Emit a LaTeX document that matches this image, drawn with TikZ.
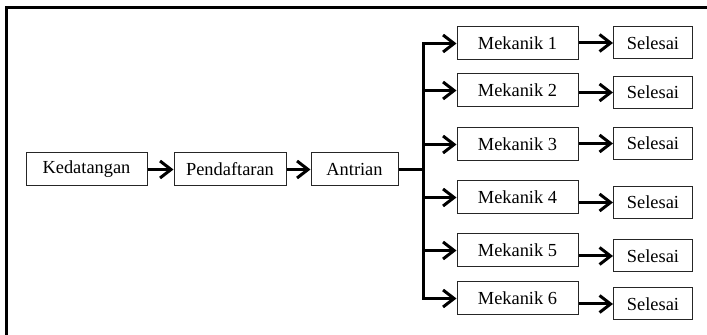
\documentclass[tikz,border=0pt]{standalone}
\usepackage{fontspec}
\setmainfont{Liberation Serif}
\usetikzlibrary{arrows.meta,positioning}

\begin{document}
\begin{tikzpicture}[
    x=0.5pt, y=-0.5pt,
    procbox/.style={draw=black!85, line width=0.5pt, minimum height=16.5pt, inner sep=0pt, font=\fontsize{9.2}{10}\selectfont},
    mekbox/.style={procbox, minimum width=60.5pt},
    donebox/.style={procbox, minimum width=39.5pt, minimum height=16pt},
    flow/.style={line width=1.5pt, line join=miter, -{Straight Barb[length=5.5pt, width=8.5pt, line width=1.5pt]}},
    trunk/.style={line width=1.5pt}
]
    \useasboundingbox (0,0) rectangle (707,335);
    \clip (0,0) rectangle (707,335);

    % Outer frame (only left and top edges inside the picture)
    \draw[line width=1.5pt] (6.5,345) -- (6.5,8) -- (720,8);

    % Main line
    \node[procbox, minimum width=60.5pt] (datang) at (86.5,169.5) {Kedatangan};
    \node[procbox, minimum width=56pt] (daftar) at (230,169.5) {Pendaftaran};
    \node[procbox, minimum width=43.5pt] (antri) at (354.5,169.5) {Antrian};
    \draw[flow] (datang) -- (daftar);
    \draw[flow] (daftar) -- (antri);

    % Mechanics
    \node[mekbox] (mk1) at (517.5,43.5) {Mekanik 1};
    \node[mekbox] (mk2) at (517.5,90.5) {Mekanik 2};
    \node[mekbox] (mk3) at (517.5,144.5) {Mekanik 3};
    \node[mekbox] (mk4) at (517.5,197.5) {Mekanik 4};
    \node[mekbox] (mk5) at (517.5,250.5) {Mekanik 5};
    \node[mekbox] (mk6) at (517.5,298.5) {Mekanik 6};

    % Finished
    \node[donebox] (sl1) at (653,43) {Selesai};
    \node[donebox] (sl2) at (653,92.5) {Selesai};
    \node[donebox] (sl3) at (653,143.5) {Selesai};
    \node[donebox] (sl4) at (653,202.5) {Selesai};
    \node[donebox] (sl5) at (653,256) {Selesai};
    \node[donebox] (sl6) at (653,304) {Selesai};

    % Branching from the queue
    \coordinate (split) at (423,169.5);
    \draw[trunk] (antri) -- (split);
    \foreach \i in {1,...,6} {
        \draw[flow] (split) |- (mk\i);
        \draw[flow] (mk\i.east |- sl\i) -- (sl\i);
    }
\end{tikzpicture}
\end{document}
